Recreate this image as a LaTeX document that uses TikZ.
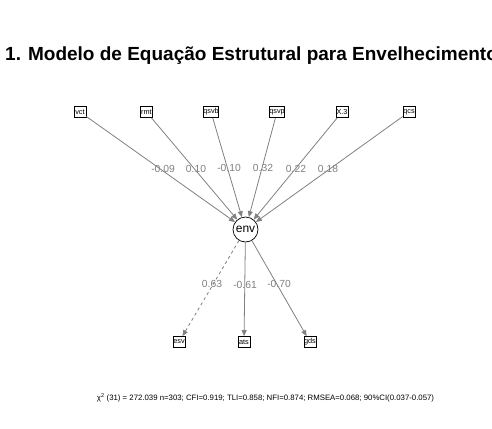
\documentclass[tikz,border=0pt]{standalone}
\usepackage{fontspec}
\setmainfont{Liberation Sans}
\usetikzlibrary{arrows.meta}
\begin{document}
\begin{tikzpicture}[x=1pt,y=-1pt,
  obs/.style={draw=black, line width=0.7pt, minimum width=12pt, minimum height=11pt,
    inner sep=0pt, font=\fontsize{7.3}{8}\selectfont},
  lat/.style={circle, draw=black, line width=0.7pt, minimum size=25pt, inner sep=0pt,
    font=\fontsize{12}{13}\selectfont},
  semarrow/.style={draw=gray, line width=0.8pt, -{Triangle[length=6pt,width=5pt]}},
  coef/.style={text=gray, font=\fontsize{10.3}{11}\selectfont, inner sep=0pt}
]
\useasboundingbox (0,0) rectangle (492,428);

% title
\node[anchor=base west, inner sep=0pt, font=\bfseries\fontsize{19}{22}\selectfont]
  (title) at (5,60) {1. Modelo de Equação Estrutural para Envelhecimento};

% observed indicators (top row)
\node[obs] (vct)  at (80,112)  {vct};
\node[obs] (rmt)  at (146.5,112) {rmt};
\node[obs] (qsvb) at (211,112) {qsvb};
\node[obs] (qsvp) at (277,112) {qsvp};
\node[obs] (x3)   at (342,112) {X.3};
\node[obs] (qcs)  at (409,112) {qcs};

% latent factor
\node[lat] (env) at (245.5,229.5) {env};

% outcome indicators (bottom row)
\node[obs] (esv) at (179,342) {esv};
\node[obs] (ats) at (244,342) {ats};
\node[obs] (gds) at (310,342) {gds};

% regression paths
\draw[semarrow] (vct)  -- (env);
\draw[semarrow] (rmt)  -- (env);
\draw[semarrow] (qsvb) -- (env);
\draw[semarrow] (qsvp) -- (env);
\draw[semarrow] (x3)   -- (env);
\draw[semarrow] (qcs)  -- (env);

% loadings
\draw[semarrow, dashed] (env) -- (esv);
\draw[semarrow] (env) -- (ats);
\draw[semarrow] (env) -- (gds);

% coefficients
\node[coef] (c1) at (163,169) {-0.09};
\node[coef] (c2) at (196,169) {0.10};
\node[coef] (c3) at (229,168) {-0.10};
\node[coef] (c4) at (263,168) {0.32};
\node[coef] (c5) at (296,169) {0.22};
\node[coef] (c6) at (328,169) {0.18};
\node[coef] (c7) at (212,284) {0.63};
\node[coef] (c8) at (245,285) {-0.61};
\node[coef] (c9) at (279,284) {-0.70};

% fit statistics
\node[inner sep=0pt, font=\fontsize{7.8}{9}\selectfont] (fit) at (265.5,398)
  {χ\textsuperscript{2} (31) = 272.039 n=303; CFI=0.919; TLI=0.858; NFI=0.874; RMSEA=0.068; 90\%CI(0.037-0.057)};
\end{tikzpicture}
\end{document}
